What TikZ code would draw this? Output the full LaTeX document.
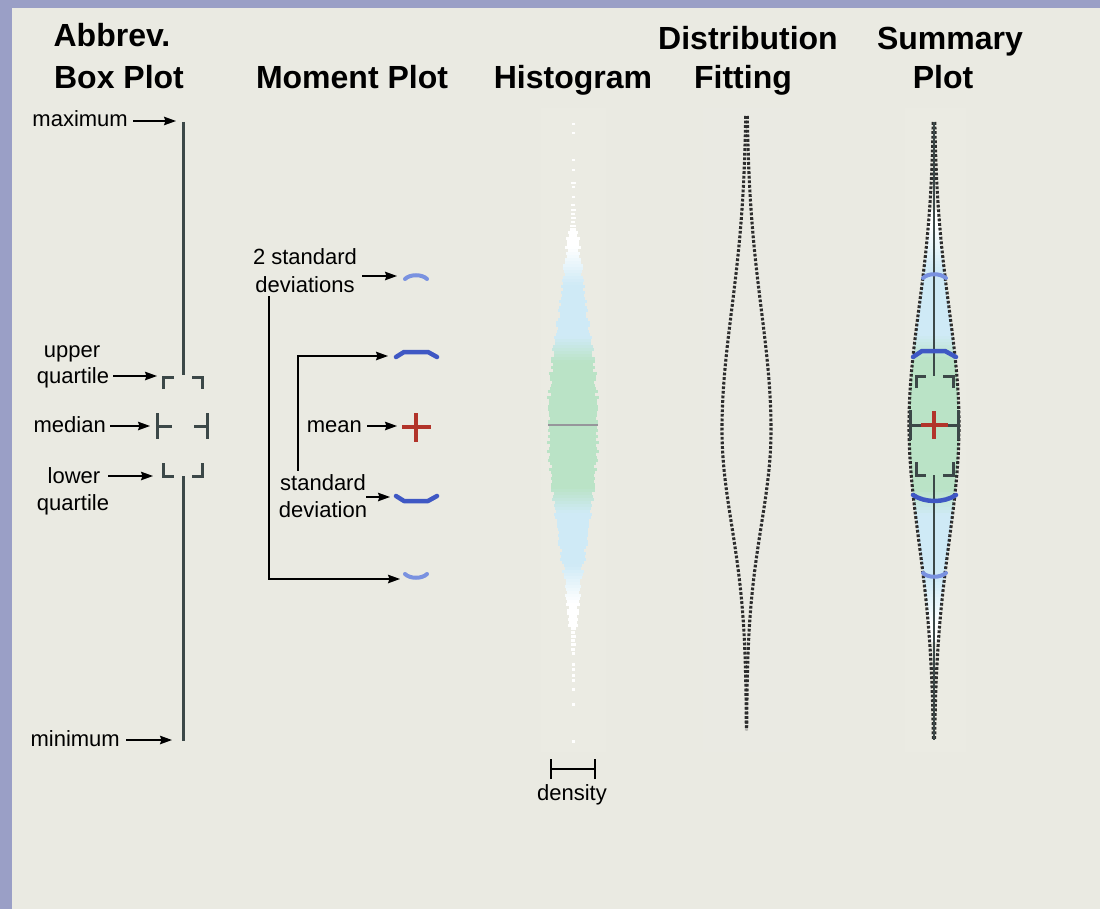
\documentclass[tikz,border=0pt]{standalone}
\usepackage{fontspec}
\setmainfont{Liberation Sans}
\usetikzlibrary{arrows.meta}
\definecolor{outerbg}{RGB}{154,159,198}
\definecolor{bg}{RGB}{234,234,226}
\definecolor{boxc}{RGB}{60,72,72}
\definecolor{sdblue}{RGB}{63,88,196}
\definecolor{sdlight}{RGB}{122,146,224}
\definecolor{meanred}{RGB}{178,52,42}
\definecolor{hgreen}{RGB}{186,227,198}
\definecolor{hblue}{RGB}{207,234,246}
\definecolor{dotc}{RGB}{45,45,45}
\definecolor{medgray}{RGB}{150,150,155}
\begin{document}
\begin{tikzpicture}[x=1pt,y=-1pt,
  lbl/.style={inner sep=0pt, font=\fontsize{22}{26}\selectfont},
  ttl/.style={inner sep=0pt, font=\fontsize{32}{38}\selectfont\bfseries},
  arr/.style={-{Stealth[length=12pt,width=8.5pt,inset=1.5pt]}, line width=1.5pt, black},
  boxln/.style={boxc, line width=3pt},
  sdarc/.style={sdblue, line width=4.5pt, line cap=round, line join=round},
  sdarcl/.style={sdlight, line width=4pt, line cap=round},
  meancross/.style={meanred, line width=4.5pt},
  dotline/.style={dotc, line width=3.1pt, dash pattern=on 2.8pt off 1.8pt},
  declare function={
    dfw(\t)=(\t<430)?24.5*exp(-0.5*((\t-430)/120)*((\t-430)/120)):24.5*exp(-0.5*((\t-430)/95)*((\t-430)/95));
    sfw(\t)=25*exp(-0.5*((\t-425)/116)*((\t-425)/116));
  }]
% background
\fill[outerbg] (0,0) rectangle (1100,909);
\fill[bg] (12,8) rectangle (1100,909);
\useasboundingbox (0,0) rectangle (1100,909);
% faint panels
\fill[white, opacity=0.06] (541,108) rectangle (606,752);
\fill[white, opacity=0.04] (703,108) rectangle (790,752);
\fill[white, opacity=0.05] (905,108) rectangle (966,752);

% titles
\node[ttl, anchor=base] (t1a) at (112,47) {Abbrev.};
\node[ttl, anchor=base] (t1b) at (119,89) {Box Plot};
\node[ttl, anchor=base] (t2) at (352,89) {Moment Plot};
\node[ttl, anchor=base] (t3) at (573,89) {Histogram};
\node[ttl, anchor=base] (t4a) at (748,50) {Distribution};
\node[ttl, anchor=base] (t4b) at (743,89) {Fitting};
\node[ttl, anchor=base] (t5a) at (950,50) {Summary};
\node[ttl, anchor=base] (t5b) at (943,89) {Plot};

% ---------- abbreviated box plot ----------
\draw[boxln] (183,122) -- (183,375);
\draw[boxln] (183,476) -- (183,741);
\draw[boxln] (163,389) -- (163,377) -- (174,377);
\draw[boxln] (192,377) -- (202,377) -- (202,389);
\draw[boxln] (157,413) -- (157,439) (157,426) -- (172,426);
\draw[boxln] (207,413) -- (207,439) (207,426) -- (194,426);
\draw[boxln] (163,463) -- (163,476) -- (174,476);
\draw[boxln] (192,476) -- (202,476) -- (202,463);

\node[lbl, anchor=base east] (lmax) at (128,127) {maximum};
\node[lbl, anchor=base] (lup1) at (72,357) {upper};
\node[lbl, anchor=base] (lup2) at (73,383) {quartile};
\node[lbl, anchor=base east] (lmed) at (106,432) {median};
\node[lbl, anchor=base] (llo1) at (74,483) {lower};
\node[lbl, anchor=base] (llo2) at (73,510) {quartile};
\node[lbl, anchor=base east] (lmin) at (120,746) {minimum};
\coordinate (amax) at (176,121);
\coordinate (aup) at (157,376);
\coordinate (amed) at (150,426);
\coordinate (alo) at (153,476);
\coordinate (amin) at (172,740);
\draw[arr] (lmax.east |- amax) ++(5,0) -- (amax);
\draw[arr] (lup2.east |- aup) ++(4,0) -- (aup);
\draw[arr] (lmed.east |- amed) ++(4,0) -- (amed);
\draw[arr] (llo1.east |- alo) ++(8,0) -- (alo);
\draw[arr] (lmin.east |- amin) ++(6,0) -- (amin);

% ---------- moment plot ----------
\draw[sdarcl] (405,279) .. controls (410,274) and (422,274) .. (427,279);
\draw[sdarc] (396,357) -- (404,352) -- (428,352) -- (437,357);
\draw[meancross] (402,427) -- (431,427) (416,413) -- (416,442);
\draw[sdarc] (396,496) -- (404,501) -- (428,501) -- (437,496);
\draw[sdarcl] (405,574) .. controls (410,579) and (422,579) .. (427,574);

\node[lbl, anchor=base] (l2sd1) at (305,265) {2 standard};
\node[lbl, anchor=base] (l2sd2) at (305,292) {deviations};
\node[lbl, anchor=base east] (lmean) at (362,432) {mean};
\node[lbl, anchor=base] (lsd1) at (323,490) {standard};
\node[lbl, anchor=base] (lsd2) at (323,517) {deviation};
\coordinate (a2up) at (397,276);
\coordinate (a2lo) at (400,579);
\coordinate (a1up) at (388,356);
\coordinate (amean) at (397,426);
\coordinate (a1lo) at (390,497);
\draw[arr] (l2sd1.east |- a2up) ++(5,0) -- (a2up);
\draw[arr] ([xshift=-36pt,yshift=-4pt]l2sd2.south) |- (a2lo);
\draw[arr] ([xshift=-25pt,yshift=3pt]lsd1.north) |- (a1up);
\draw[arr] (lmean.east |- amean) ++(5,0) -- (amean);
\draw[arr] (lsd1.east |- a1lo) -- (a1lo);

% ---------- histogram ----------
\pgfmathsetseed{12}
\foreach \yy in {228,231,...,624} {
  \pgfmathsetmacro{\dd}{abs(\yy+1.5-425)}
  \pgfmathsetmacro{\hw}{max(1.5,25*exp(-0.5*(\dd/105)*(\dd/105))+1.8*rand)}
  \pgfmathsetmacro{\pg}{min(100,max(0,4*(88-\dd)))}
  \pgfmathsetmacro{\pb}{min(100,max(0,(178-\dd)/0.38))}
  \fill[hgreen!\pg!hblue!\pb!white] ({573-\hw},\yy) rectangle ({573+\hw},{\yy+3.3});
}
\foreach \yy/\w in {123/1.5,132/1.5,159/1.5,169/1.5,182/2.5,186/1.5,196/1.5,204/2,209/2.5,213/2,217/2.5,221/2,225/3,
  627/2.5,631/2,635/2.5,639/2,643/2.5,648/2,652/1.5,663/1.5,668/1.5,674/1.5,679/1.5,688/1.5,703/1.5,740/1.5} {
  \fill[white] ({573-\w},\yy) rectangle ({573+\w},{\yy+2.5});
}
\draw[medgray, line width=2pt] (548,425) -- (598,425);
% density scale
\coordinate (dl) at (551,769);
\coordinate (dr) at (595,769);
\draw[black, line width=1.5pt] (dl) -- (dr) ([yshift=-10pt]dl) -- ([yshift=10pt]dl) ([yshift=-10pt]dr) -- ([yshift=10pt]dr);
\node[lbl, anchor=base] (ldens) at (572,800) {density};

% ---------- distribution fitting ----------
\draw[dotline] plot[variable=\t, domain=116:730, samples=160] ({746.5-dfw(\t)},\t);
\draw[dotline] plot[variable=\t, domain=116:730, samples=160] ({746.5+dfw(\t)},\t);

% ---------- summary plot ----------
\foreach \yy in {210,213,...,640} {
  \pgfmathsetmacro{\dd}{abs(\yy+1.5-425)}
  \pgfmathsetmacro{\hw}{sfw(\yy+1.5)}
  \pgfmathsetmacro{\pg}{min(100,max(0,4*(90-\dd)))}
  \pgfmathsetmacro{\pb}{min(100,max(0,(200-\dd)/0.45))}
  \fill[hgreen!\pg!hblue!\pb!white] ({934-\hw},\yy) rectangle ({934+\hw},{\yy+3.3});
}
\draw[dotline] plot[variable=\t, domain=122:740, samples=160] ({934-sfw(\t)},\t);
\draw[dotline] plot[variable=\t, domain=122:740, samples=160] ({934+sfw(\t)},\t);
\draw[boxc, line width=2.5pt] (934,122) -- (934,376);
\draw[boxc, line width=2.5pt] (934,475) -- (934,740);
\draw[boxln] (916,388) -- (916,376) -- (926,376);
\draw[boxln] (943,376) -- (953,376) -- (953,388);
\draw[boxln] (910,410) -- (910,440) (958,410) -- (958,440) (910,425) -- (958,425);
\draw[boxln] (916,462) -- (916,475) -- (926,475);
\draw[boxln] (943,475) -- (953,475) -- (953,462);
\draw[sdarcl] (923,278) .. controls (928,273) and (940,273) .. (946,278);
\draw[sdarc] (913,357) -- (922,351) -- (945,351) -- (956,357);
\draw[meancross] (921,425) -- (948,425) (934,411) -- (934,439);
\draw[sdarc] (913,495) .. controls (925,503) and (944,503) .. (956,495);
\draw[sdarcl] (923,573) .. controls (928,578) and (940,578) .. (946,573);
\end{tikzpicture}
\end{document}
